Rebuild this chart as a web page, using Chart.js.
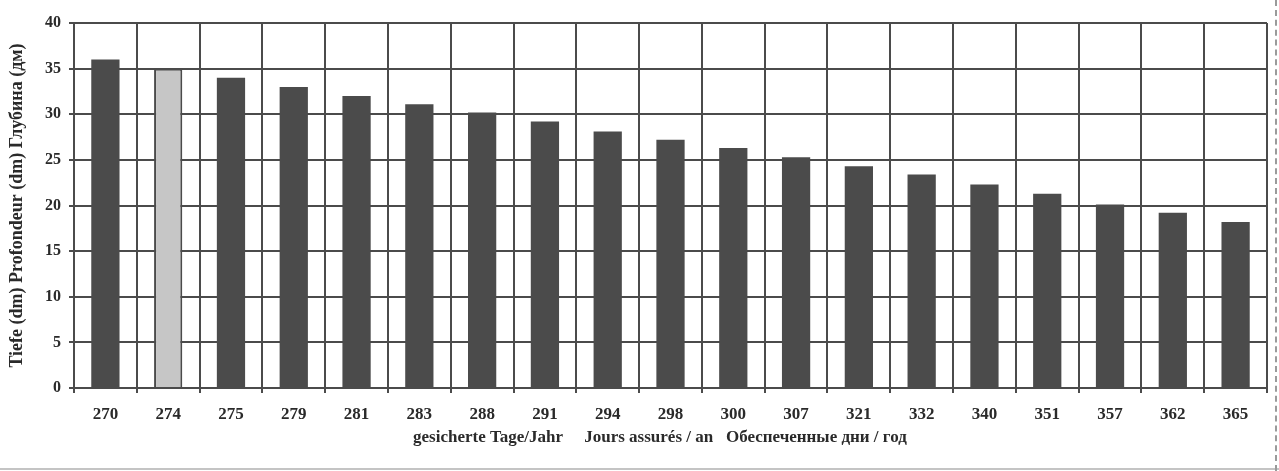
<!DOCTYPE html>
<html>
<head>
<meta charset="utf-8">
<title>Tiefe / gesicherte Tage</title>
<script src="https://cdn.jsdelivr.net/npm/chart.js@4"></script>
<style>
  html, body { margin: 0; padding: 0; background: #fff; }
  .wrap { position: relative; width: 1279px; height: 471px; }
  .edge-bottom { position: absolute; left: 0; top: 468px; width: 1279px; height: 2px; background: #c4c4c4; }
  .edge-right { position: absolute; left: 1275px; top: 0; width: 0; height: 471px; border-left: 2px dashed #9a9a9a; }
</style>
</head>
<body>
<div class="wrap">
  <canvas id="depth"></canvas>
  <div class="edge-bottom"></div>
  <div class="edge-right"></div>
</div>
<script>
// guaranteed days per year and the depth for each
const days = ["270", "274", "275", "279", "281", "283", "288", "291", "294", "298",
              "300", "307", "321", "332", "340", "351", "357", "362", "365"];
const depth = [36, 35, 34, 33, 32, 31.1, 30.2, 29.2, 28.1, 27.2,
               26.3, 25.3, 24.3, 23.4, 22.3, 21.3, 20.1, 19.2, 18.2];
const highlighted = "274";

const sp = (n) => "\u00a0".repeat(n);
const xTitle = "gesicherte Tage/Jahr" + sp(5) + "Jours assurés / an" + sp(3) + "Обеспеченные дни / год" + sp(5);
const yTitle = "Tiefe (dm) Profondeur (dm) Глубина (дм)";

const ink = "#4b4b4b";
const serif = "'Liberation Serif', 'DejaVu Serif', serif";

const canvas = document.getElementById("depth");
canvas.width = 1279;
canvas.height = 471;

new Chart(canvas, {
  type: "bar",
  data: {
    labels: days,
    datasets: [
      {
        data: depth,
        backgroundColor: (c) => (days[c.dataIndex] === highlighted ? "#c6c6c6" : ink),
        borderColor: ink,
        borderWidth: (c) => (days[c.dataIndex] === highlighted ? 2 : 0),
        barPercentage: 0.45,
        categoryPercentage: 1,
      },
    ],
  },
  options: {
    responsive: false,
    animation: false,
    layout: {
      padding: { top: 23, right: 12, left: 0, bottom: 0 },
    },
    plugins: {
      legend: { display: false },
      tooltip: { enabled: false },
    },
    scales: {
      x: {
        grid: {
          offset: true,
          color: ink,
          lineWidth: 2,
          tickLength: 5,
          tickColor: ink,
        },
        border: { color: ink, width: 2 },
        ticks: {
          color: "#2a2a2a",
          padding: 11,
          font: { family: serif, size: 17, weight: "bold" },
        },
        title: {
          display: true,
          text: xTitle,
          color: "#2a2a2a",
          padding: { top: 4, bottom: 23 },
          font: { family: serif, size: 17, weight: "bold" },
        },
        afterFit: (scale) => {
          scale.height = 83;
        },
      },
      y: {
        min: 0,
        max: 40,
        grid: {
          color: ink,
          lineWidth: 2,
          tickLength: 5,
          tickColor: ink,
        },
        border: { color: ink, width: 2 },
        ticks: {
          stepSize: 5,
          color: "#2a2a2a",
          padding: 8,
          font: { family: serif, size: 16, weight: "bold" },
        },
        title: {
          display: true,
          text: yTitle,
          color: "#2a2a2a",
          padding: { top: 7, bottom: 0 },
          font: { family: serif, size: 18, weight: "bold" },
        },
        afterFit: (scale) => {
          scale.width = 74;
        },
      },
    },
  },
});
</script>
</body>
</html>
